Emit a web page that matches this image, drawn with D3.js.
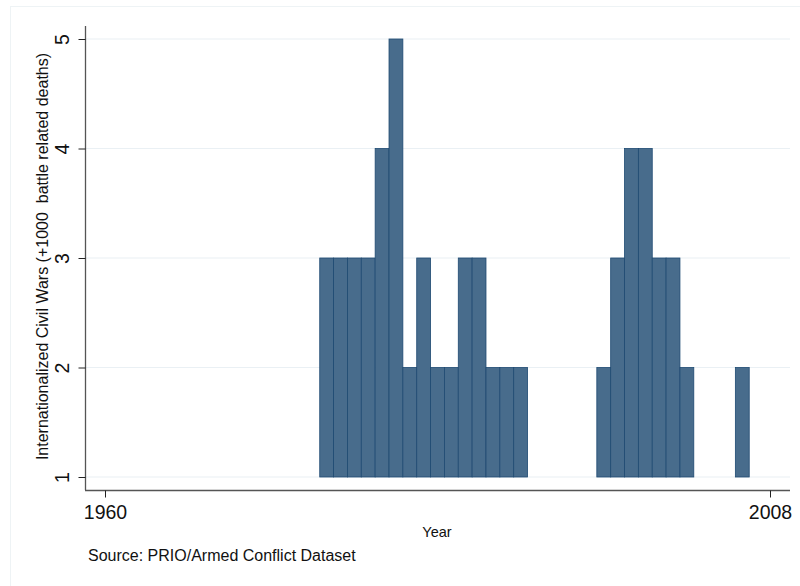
<!DOCTYPE html>
<html><head><meta charset="utf-8">
<script src="https://cdn.jsdelivr.net/npm/d3@7"></script>
<style>body{margin:0;background:#fff;} text{font-family:"Liberation Sans",Arial,Helvetica,sans-serif;fill:#111;}</style>
</head><body>
<svg id="c" width="800" height="586"></svg>
<script>
const years = [1976,1977,1978,1979,1980,1981,1982,1983,1984,1985,1986,1987,1988,1989,1990,
               1996,1997,1998,1999,2000,2001,2002,2006];
const counts = [3,3,3,3,4,5,2,3,2,2,3,3,2,2,2,
                2,3,4,4,3,3,2,2];
const xTicks = [1960,2008];
const yTicks = [1,2,3,4,5];

const svg = d3.select("#c");
// faint outer frame
svg.append("rect").attr("x",10.5).attr("y",6.5).attr("width",800).attr("height",600)
  .attr("fill","none").attr("stroke","#eef3f5").attr("stroke-width",1);

const x = d3.scaleLinear().domain([1960,2008]).range([105,770]);
const y = d3.scaleLinear().domain([1,5]).range([477,39]);
const bw = x(1961)-x(1960);

// gridlines
svg.append("g").selectAll("line").data(yTicks).join("line")
  .attr("x1",86).attr("x2",790).attr("y1",d=>y(d)).attr("y2",d=>y(d))
  .attr("stroke","#eaf0f4").attr("stroke-width",1.2);

// bars
svg.append("g").selectAll("rect").data(years.map((yr,i)=>({yr,c:counts[i]}))).join("rect")
  .attr("x",d=>x(d.yr)-bw/2).attr("width",bw)
  .attr("y",d=>y(d.c)).attr("height",d=>y(1)-y(d.c))
  .attr("fill","#486c8c").attr("stroke","#1f4a72").attr("stroke-width",0.8);

// y axis
const ya = svg.append("g").attr("transform","translate(85.5,0)")
  .call(d3.axisLeft(y).tickValues(yTicks).tickSize(7).tickFormat(d3.format("d")));
ya.select(".domain").attr("d","M0,26V490").attr("stroke","#555").attr("stroke-width",1.3);
ya.selectAll(".tick line").attr("stroke","#222");
ya.selectAll(".tick text").attr("transform","rotate(-90)").attr("x",0).attr("y",-16.5)
  .attr("dy","0").attr("text-anchor","middle").style("font-size","19.5px").attr("fill","#111");

// x axis
const xa = svg.append("g").attr("transform","translate(0,490.5)")
  .call(d3.axisBottom(x).tickValues(xTicks).tickSize(7).tickFormat(d3.format("d")));
xa.select(".domain").attr("d","M85,0H790").attr("stroke","#555").attr("stroke-width",1.3);
xa.selectAll(".tick line").attr("stroke","#222");
xa.selectAll(".tick text").attr("y",28).attr("dy","0").style("font-size","19.5px").attr("fill","#111");

// titles
svg.append("text").attr("x",437).attr("y",537).attr("text-anchor","middle")
  .style("font-size","14.5px").text("Year");
svg.append("text").attr("transform","translate(48,256.5) rotate(-90)").attr("text-anchor","middle")
  .style("font-size","16px").style("white-space","pre")
  .text("Internationalized Civil Wars (+1000  battle related deaths)");
svg.append("text").attr("x",88).attr("y",561).style("font-size","16px")
  .text("Source: PRIO/Armed Conflict Dataset");
</script>
</body></html>
